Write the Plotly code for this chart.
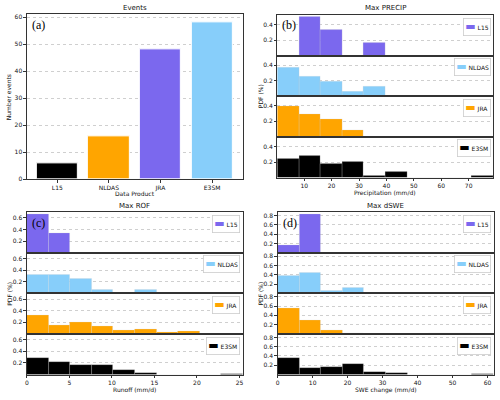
import numpy as np
import plotly.graph_objects as go

# ---------------- data ----------------
products = ["L15", "NLDAS", "JRA", "E3SM"]
n_events = [6, 16, 48, 58]
event_colors = ["#000000", "#FFA500", "#7B68EE", "#87CEFA"]

series_names = ["L15", "NLDAS", "JRA", "E3SM"]
series_colors = ["#7B68EE", "#87CEFA", "#FFA500", "#000000"]

# Max PRECIP (mm/d): 10 bins
precip_range = [0.2, 79.0]
precip_L15 = [0, 0.5, 0.333, 0, 0.167, 0, 0, 0, 0, 0]
precip_NLDAS = [0.375, 0.25, 0.1875, 0.0625, 0.125, 0, 0, 0, 0, 0]
precip_JRA = [0.396, 0.292, 0.229, 0.083, 0, 0, 0, 0, 0, 0]
precip_E3SM = [0.241, 0.276, 0.172, 0.207, 0.017, 0.069, 0, 0, 0, 0.017]
precip_ticks = [10, 20, 30, 40, 50, 60, 70]

# Max ROF (mm/d)
rof_range = [0.0, 25.4]
rof_L15 = [0.667, 0.333, 0, 0, 0, 0, 0, 0, 0, 0]
rof_NLDAS = [0.3125, 0.3125, 0.25, 0.0625, 0, 0.0625, 0, 0, 0, 0]
rof_JRA = [0.3125, 0.146, 0.208, 0.125, 0.0625, 0.083, 0.021, 0.042, 0, 0]
rof_E3SM = [0.293, 0.224, 0.172, 0.172, 0.086, 0.034, 0, 0, 0, 0.017]
rof_ticks = [0, 5, 10, 15, 20, 25]

# Max dSWE (mm/d)
swe_range = [0.0, 61.7]
swe_L15 = [0.167, 0.833, 0, 0, 0, 0, 0, 0, 0, 0]
swe_NLDAS = [0.375, 0.4375, 0.0625, 0.125, 0, 0, 0, 0, 0, 0]
swe_JRA = [0.542, 0.292, 0.083, 0.021, 0, 0, 0, 0.021, 0.021, 0]
swe_E3SM = [0.362, 0.138, 0.172, 0.224, 0.052, 0.034, 0, 0, 0, 0.017]
swe_ticks = [0, 10, 20, 30, 40, 50, 60]

# ---------------- layout helpers ----------------
W, H = 500, 400
def px(x):
    return x / W
def py(y):
    return 1 - y / H
def xd(l, r):
    return [px(l), px(r)]
def yd(t, b):
    return [py(b), py(t)]

FONT = "DejaVu Sans, Arial, sans-serif"
LINE = "#333333"
TXT = "#111111"
axis_common = dict(showline=True, linecolor=LINE, linewidth=0.8, mirror=True,
                   ticks="outside", ticklen=2.5, tickwidth=0.8, tickcolor=LINE,
                   tickfont=dict(size=6, color=TXT, family=FONT),
                   zeroline=False, showgrid=False, fixedrange=True)
grid = dict(showgrid=True, gridcolor="#cfcfcf", gridwidth=0.6, griddash="dot")

def label(text, x, y, size=6, angle=0, **kw):
    d = dict(text=text, x=px(x), y=py(y), xref="paper", yref="paper",
             xanchor="center", yanchor="middle", showarrow=False,
             textangle=angle, font=dict(size=size, color=TXT, family=FONT))
    d.update(kw)
    return d

fig = go.Figure()
layout = dict(width=W, height=H, margin=dict(l=0, r=0, t=0, b=0),
              paper_bgcolor="white", plot_bgcolor="white", showlegend=False,
              font=dict(family=FONT, size=6, color=TXT))
annotations = []
SERIF = dict(size=12, family="Liberation Serif, Times New Roman, serif", color="#000")

# ---------------- panel (a) ----------------
A_L, A_R, A_T, A_B = 25, 242, 13.5, 180
fig.add_trace(go.Bar(x=products, y=n_events, marker=dict(color=event_colors,
                     line=dict(color="white", width=1)), width=0.8,
                     xaxis="x", yaxis="y", hoverinfo="x+y"))
layout["xaxis"] = dict(axis_common, domain=xd(A_L, A_R), anchor="y",
                       type="category", range=[-0.59, 3.59])
layout["yaxis"] = dict(axis_common, **grid, domain=yd(A_T, A_B), anchor="x",
                       range=[0, 61], tickvals=[0, 10, 20, 30, 40, 50, 60])
annotations += [
    label("Events", (A_L + A_R) / 2, 7, size=7),
    label("Data Product", (A_L + A_R) / 2, 194.5),
    label("Number events", 6.5, (A_T + A_B) / 2, angle=-90),
    label("(a)", A_L + 3, A_T + 1.5, xanchor="left", yanchor="top", font=SERIF),
]

# ---------------- histogram panels ----------------
panels = [
    dict(label="(b)", title="Max PRECIP", xlabel="Precipitation (mm/d)",
         L=277, R=494.3, T=14, B=178.3, rng=precip_range, ticks=precip_ticks,
         data=[precip_L15, precip_NLDAS, precip_JRA, precip_E3SM],
         ymax=0.525, yt=[0.2, 0.4], first=2),
    dict(label="(c)", title="Max ROF", xlabel="Runoff (mm/d)",
         L=25, R=242.3, T=213.3, B=377.3, rng=rof_range, ticks=rof_ticks,
         data=[rof_L15, rof_NLDAS, rof_JRA, rof_E3SM],
         ymax=0.7, yt=[0.2, 0.4, 0.6], first=6),
    dict(label="(d)", title="Max dSWE", xlabel="SWE change (mm/d)",
         L=277.3, R=494.5, T=213.3, B=377.3, rng=swe_range, ticks=swe_ticks,
         data=[swe_L15, swe_NLDAS, swe_JRA, swe_E3SM],
         ymax=0.875, yt=[0.2, 0.4, 0.6, 0.8], first=10),
]

for p in panels:
    nb = len(p["data"][0])
    edges = np.linspace(p["rng"][0], p["rng"][1], nb + 1)
    centers = (edges[:-1] + edges[1:]) / 2
    bw = edges[1] - edges[0]
    rowh = (p["B"] - p["T"]) / 4
    for i, (name, col, vals) in enumerate(zip(series_names, series_colors, p["data"])):
        k = p["first"] + i
        xa, ya = f"x{k}", f"y{k}"
        fig.add_trace(go.Bar(x=centers, y=vals, width=bw, name=name,
                             marker=dict(color=col, line=dict(color="rgba(210,210,210,0.45)", width=0.5)),
                             xaxis=xa, yaxis=ya))
        t = p["T"] + i * rowh
        b = t + rowh
        last = (i == 3)
        layout[f"xaxis{k}"] = dict(axis_common, domain=xd(p["L"], p["R"]), anchor=ya,
                                   range=p["rng"], tickvals=p["ticks"],
                                   showticklabels=last, ticks="outside" if last else "")
        layout[f"yaxis{k}"] = dict(axis_common, **grid, domain=yd(t, b), anchor=xa,
                                   range=[0, p["ymax"]], tickvals=p["yt"])
        annotations.append(dict(
            text=f"<span style='color:{col};font-size:11px'>▬</span> {name}",
            xref=f"{xa} domain", yref=f"{ya} domain", x=0.988, y=0.935,
            xanchor="right", yanchor="top", showarrow=False,
            font=dict(size=6, color=TXT, family=FONT), bgcolor="white",
            bordercolor="#cccccc", borderwidth=0.8, borderpad=1.5))
    annotations += [
        label(p["title"], (p["L"] + p["R"]) / 2, p["T"] - 6.5, size=7),
        label(p["xlabel"], (p["L"] + p["R"]) / 2, p["B"] + 15.5),
        label("PDF (%)", p["L"] - 17.5, (p["T"] + p["B"]) / 2, angle=-90),
        label(p["label"], p["L"] + 3, p["T"] + 1.5, xanchor="left", yanchor="top", font=SERIF),
    ]

layout["annotations"] = annotations
layout["bargap"] = 0
fig.update_layout(**layout)
fig.write_html("out.html", config={"displayModeBar": False},
               post_script="document.body.style.margin='0px';document.body.style.overflow='hidden';")
